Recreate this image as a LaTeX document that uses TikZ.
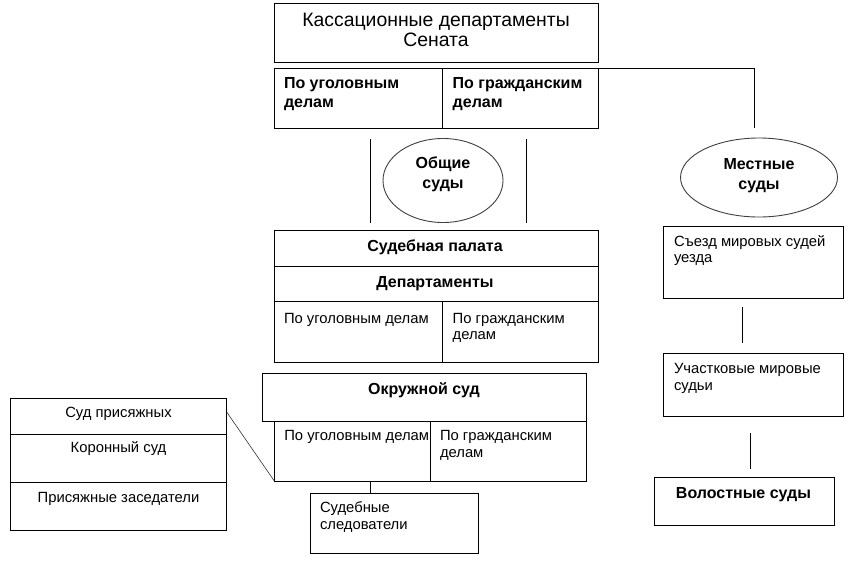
\documentclass[tikz,border=0pt]{standalone}
\usepackage{fontspec}
\setmainfont{Liberation Sans}
\usetikzlibrary{shapes.geometric}
\begin{document}
\begin{tikzpicture}[x=1pt,y=-1pt,line width=0.9pt,
  box/.style={draw,rectangle,inner sep=0pt,outer sep=0pt,anchor=north west},
  oval/.style={draw,ellipse,inner sep=0pt,outer sep=0pt,draw=black!75},
  ttitle/.style={inner sep=0pt,outer sep=0pt,align=center,font=\fontsize{19.4}{20.5}\selectfont},
  tbold/.style={inner sep=0pt,outer sep=0pt,align=left,font=\bfseries\fontsize{16}{19}\selectfont},
  tboldc/.style={tbold,align=center,font=\bfseries\fontsize{16}{20}\selectfont},
  treg/.style={inner sep=0pt,outer sep=0pt,align=left,font=\fontsize{14.8}{16.7}\selectfont},
  link/.style={draw,line width=0.9pt}]
\useasboundingbox (0,0) rectangle (856,563);
\fill[white] (0,0) rectangle (856,563);

% Senate
\node[box,minimum width=324.5pt,minimum height=59pt] (sen) at (274,3) {};
\node[box,minimum width=168.7pt,minimum height=60pt] (sencrim) at (274,68) {};
\node[box,minimum width=155.8pt,minimum height=60pt] (senciv) at (442.7,68) {};
\node[ttitle,anchor=base] (sent) at (436,46.8) {Кассационные департаменты\\Сената};
\node[tbold,anchor=base west] (sencrimt) at (284,107.3) {По уголовным\\делам};
\node[tbold,anchor=base west] (sencivt) at (452.7,107.3) {По гражданским\\делам};

% ellipses
\node[oval,minimum width=120pt,minimum height=84pt] (obsh) at (443,180.5) {};
\node[tboldc,anchor=base] (obsht) at (443,188.3) {Общие\\суды};
\node[oval,minimum width=157pt,minimum height=79pt] (mest) at (759,177.5) {};
\node[tboldc,anchor=base] (mestt) at (759,189.3) {Местные\\суды};

% Judicial chamber
\node[box,minimum width=324.5pt,minimum height=36pt] (palhead) at (274,230) {};
\node[box,minimum width=324.5pt,minimum height=35.7pt] (paldep) at (274,266) {};
\node[box,minimum width=168.7pt,minimum height=60.3pt] (palcrim) at (274,301.7) {};
\node[box,minimum width=155.8pt,minimum height=60.3pt] (palciv) at (442.7,301.7) {};
\node[tbold,anchor=base] (palheadt) at (435,251.7) {Судебная палата};
\node[tbold,anchor=base] (paldept) at (435,287.7) {Департаменты};
\node[treg,anchor=base west] (palcrimt) at (284,323) {По уголовным делам};
\node[treg,anchor=base west] (palcivt) at (452.7,339.7) {По гражданским\\делам};

% District court
\node[box,minimum width=323.6pt,minimum height=48pt] (okr) at (262.7,373.3) {};
\node[box,minimum width=156.4pt,minimum height=59.7pt] (okrcrim) at (274.3,421.3) {};
\node[box,minimum width=155.6pt,minimum height=59.7pt] (okrciv) at (430.7,421.3) {};
\node[tbold,anchor=base] (okrt) at (424,394) {Окружной суд};
\node[treg,anchor=base west] (okrcrimt) at (284.3,440.8) {По уголовным делам};
\node[treg,anchor=base west] (okrcivt) at (440,457.5) {По гражданским\\делам};

% Jury block
\node[box,minimum width=216.4pt,minimum height=35.7pt] (jury1) at (10.3,398.3) {};
\node[box,minimum width=216.4pt,minimum height=48.3pt] (jury2) at (10.3,434) {};
\node[box,minimum width=216.4pt,minimum height=47.7pt] (jury3) at (10.3,482.3) {};
\node[treg,anchor=base] (jury1t) at (118.5,417.8) {Суд присяжных};
\node[treg,anchor=base] (jury2t) at (118.5,452.5) {Коронный суд};
\node[treg,anchor=base] (jury3t) at (118.5,502.8) {Присяжные заседатели};

% Investigators
\node[box,minimum width=168pt,minimum height=60pt] (sled) at (310.3,493) {};
\node[treg,anchor=base west] (sledt) at (320,529.2) {Судебные\\следователи};

% Local courts
\node[box,minimum width=180pt,minimum height=72.3pt] (sezd) at (663.3,226) {};
\node[treg,anchor=base west] (sezdt) at (674,262.9) {Съезд мировых судей\\уезда};
\node[box,minimum width=180pt,minimum height=62.7pt] (uch) at (663.3,353.3) {};
\node[treg,anchor=base west] (ucht) at (674,390.5) {Участковые мировые\\судьи};
\node[box,minimum width=180pt,minimum height=48pt] (vol) at (654.3,477.3) {};
\node[tbold,anchor=base] (volt) at (743.5,498.2) {Волостные суды};

% connectors
\coordinate (mtop) at (754.3,128);
\draw[link] (senciv.north east) -| (mtop);
\coordinate (l1a) at (370.3,139); \coordinate (l1b) at (370.3,223);
\coordinate (l2a) at (526.3,139); \coordinate (l2b) at (526.3,223);
\draw[link] (l1a) -- (l1b);
\draw[link] (l2a) -- (l2b);
\coordinate (r1a) at (742.3,307.3); \coordinate (r1b) at (742.3,343.3);
\draw[link] (r1a) -- (r1b);
\coordinate (r2a) at (750.3,433.3); \coordinate (r2b) at (750.3,469.3);
\draw[link] (r2a) -- (r2b);
\coordinate (jd) at (226.7,412);
\draw[line width=0.6pt,black!80] (jd) -- (okrcrim.south west);
\coordinate (sc) at (370.3,481);
\draw[link] (sc) -- (sc |- sled.north);
\end{tikzpicture}
\end{document}
